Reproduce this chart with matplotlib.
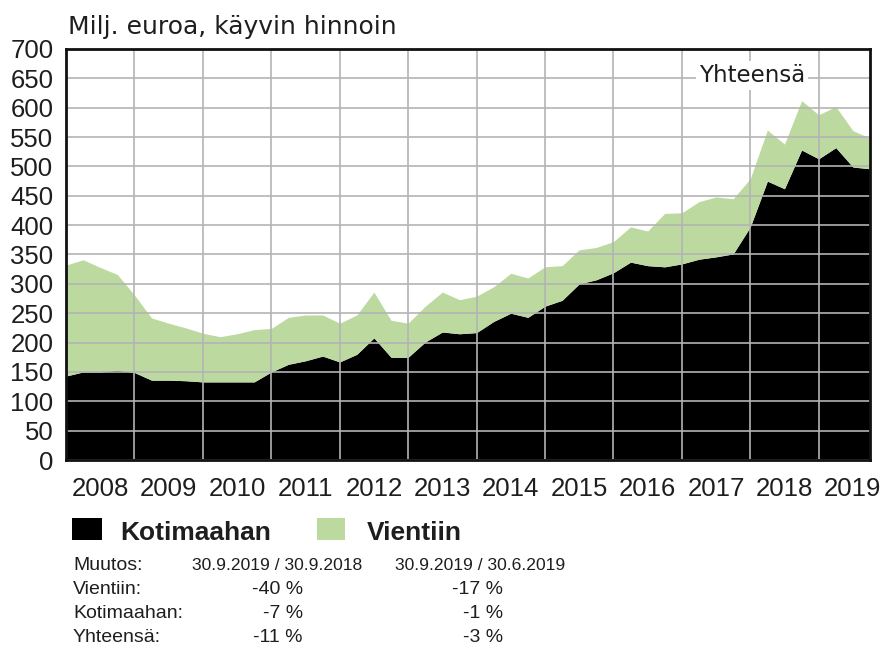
import matplotlib
matplotlib.use("Agg")
import matplotlib.pyplot as plt
from matplotlib.patches import Rectangle
import numpy as np

# ---- data (quarterly, 31.12.2007 ... 30.9.2019), milj. euroa ----
kotimaahan = [143, 150, 150, 153, 149, 136, 136, 135, 133, 133, 133, 133,
              150, 163, 169, 177, 167, 180, 208, 175, 175, 201, 218, 215,
              217, 236, 250, 243, 262, 272, 300, 307, 319, 337, 331, 329,
              334, 342, 346, 351, 397, 475, 462, 528, 513, 532, 499, 496]
vientiin = [189, 191, 178, 163, 132, 106, 97, 90, 83, 77, 82, 89,
            74, 80, 78, 70, 66, 67, 78, 63, 58, 61, 68, 58,
            62, 59, 68, 67, 67, 59, 58, 55, 53, 60, 59, 91,
            87, 98, 102, 94, 82, 87, 76, 84, 75, 70, 62, 52]
years = ["2008", "2009", "2010", "2011", "2012", "2013",
         "2014", "2015", "2016", "2017", "2018", "2019"]
y_ticks = list(range(0, 701, 50))

title = "Milj. euroa, käyvin hinnoin"
total_label = "Yhteensä"
series_names = ["Kotimaahan", "Vientiin"]

table_header = ["Muutos:", "30.9.2019 / 30.9.2018", "30.9.2019 / 30.6.2019"]
table_rows = [["Vientiin:", "-40 %", "-17 %"],
              ["Kotimaahan:", "-7 %", "-1 %"],
              ["Yhteensä:", "-11 %", "-3 %"]]

BLACK = "#000000"
GREEN = "#bcd9a0"
GRID = "#b4b4b4"
TXT = "#1e1e1e"

W, H = 887, 647
fig = plt.figure(figsize=(W / 100, H / 100), dpi=100)


def fx(x):
    return x / W


def fy(y):
    return 1 - y / H


ax = fig.add_axes([fx(66), fy(460), (870 - 66) / W, (460 - 49) / H])

x = np.arange(len(kotimaahan))
kot = np.array(kotimaahan, dtype=float)
vie = np.array(vientiin, dtype=float)
ax.fill_between(x, 0, kot, color=BLACK, linewidth=0, zorder=1)
ax.fill_between(x, kot, kot + vie, color=GREEN, linewidth=0, zorder=1)

ax.set_xlim(0, len(kotimaahan) - 1)
ax.set_ylim(0, 700)

fam = ["Liberation Sans", "DejaVu Sans"]

# grid
ax.set_xticks(np.arange(4, len(kotimaahan) - 1, 4))
ax.set_xticklabels([])
ax.set_xticks(np.arange(2, 4 * len(years), 4), minor=True)
ax.set_xticklabels(years, minor=True, fontsize=18.5, family=fam, color=TXT)
ax.set_yticks(y_ticks)
ax.set_yticklabels([str(v) for v in y_ticks], fontsize=18.5,
                   family=fam, color=TXT)
ax.tick_params(axis="x", which="both", length=0, pad=12)
ax.tick_params(axis="y", which="both", length=0, pad=9)
ax.grid(True, which="major", color=GRID, linewidth=1.2, zorder=2)
ax.set_axisbelow(False)
for s in ax.spines.values():
    s.set_linewidth(2.0)
    s.set_color("#111111")
    s.set_zorder(5)

ax.text(40.1, 655, total_label, ha="center", va="center", fontsize=16.5,
        family="DejaVu Sans", color=TXT, zorder=6,
        bbox=dict(facecolor="white", edgecolor="none", pad=2))

fig.text(fx(68), fy(34), title, fontsize=18, family="DejaVu Sans",
         color=TXT, ha="left", va="baseline")

# legend
for (x0, x1, col), name, tx in zip([(72, 102, BLACK), (317, 345, GREEN)],
                                   series_names, [120, 367]):
    fig.patches.append(Rectangle((fx(x0), fy(540)), fx(x1 - x0), (540 - 518) / H,
                                 transform=fig.transFigure, facecolor=col,
                                 edgecolor="none"))
    fig.text(fx(tx), fy(540), name, fontsize=19, fontweight="bold",
             family=fam, color=TXT, ha="left", va="baseline")

# change table
fig.text(fx(73), fy(570), table_header[0], fontsize=14, family=fam,
         color=TXT, ha="left", va="baseline")
fig.text(fx(192), fy(570), table_header[1], fontsize=12.6, family=fam,
         color=TXT, ha="left", va="baseline")
fig.text(fx(395), fy(570), table_header[2], fontsize=12.6, family=fam,
         color=TXT, ha="left", va="baseline")
for row, yb in zip(table_rows, [594, 618, 642]):
    fig.text(fx(73), fy(yb), row[0], fontsize=14, family=fam,
             color=TXT, ha="left", va="baseline")
    fig.text(fx(303), fy(yb), row[1], fontsize=14, family=fam,
             color=TXT, ha="right", va="baseline")
    fig.text(fx(503), fy(yb), row[2], fontsize=14, family=fam,
             color=TXT, ha="right", va="baseline")

fig.savefig("out.png", dpi=100, facecolor="white")
